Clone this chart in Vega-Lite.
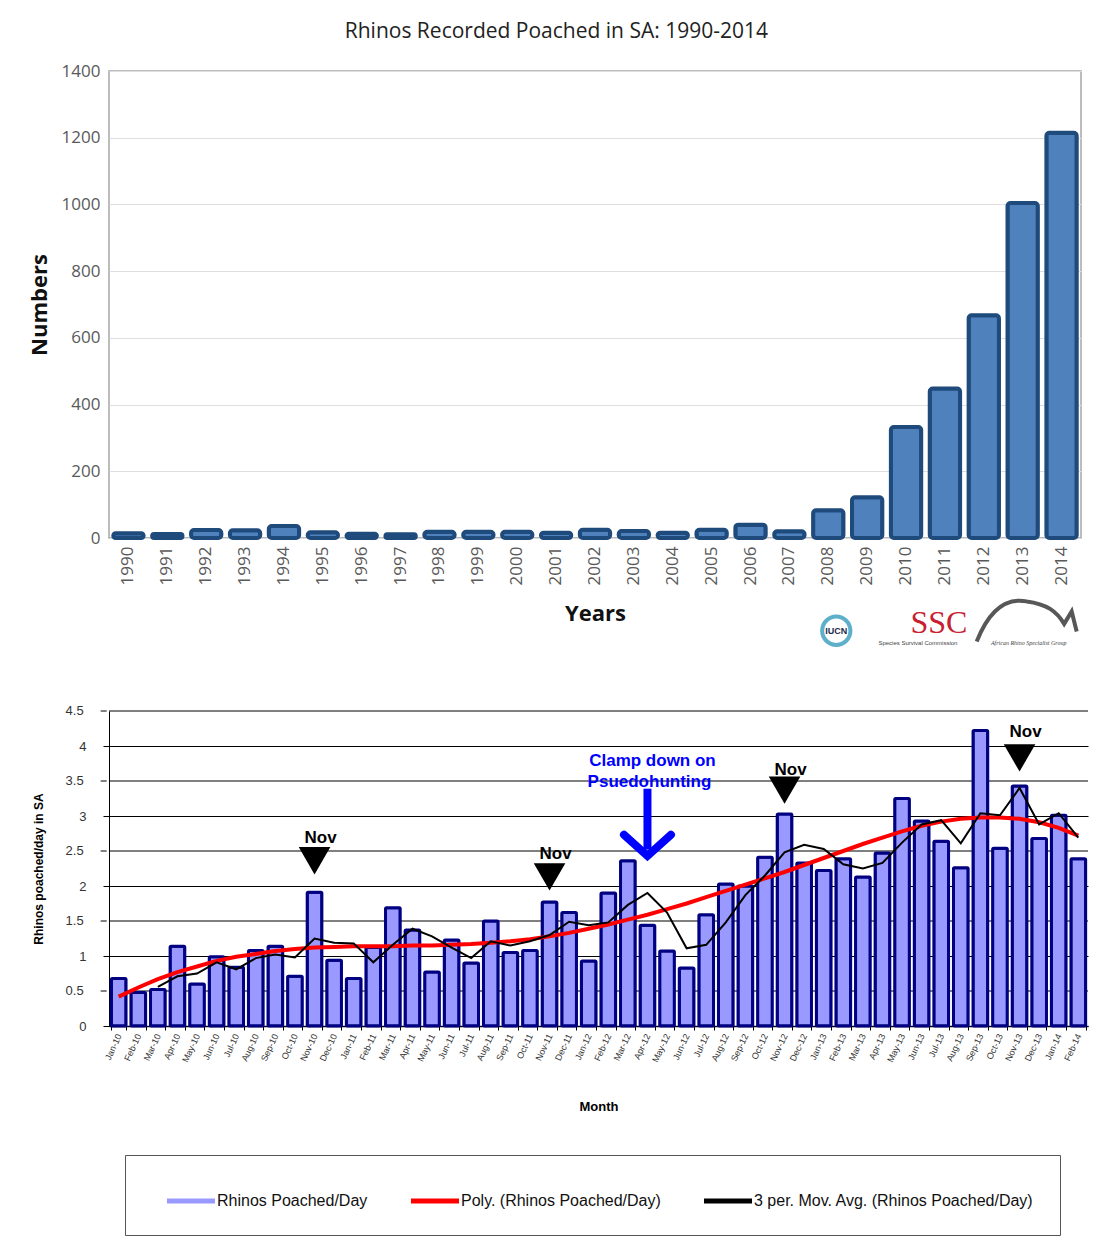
{
  "$schema": "https://vega.github.io/schema/vega-lite/v6.json",
  "background": "white",
  "padding": {"left": 27, "top": 20, "right": 0, "bottom": 0},
  "columns": 1,
  "spacing": 51,
  "datasets": {
    "years": [
      {"year": "1990", "n": 14}, {"year": "1991", "n": 12}, {"year": "1992", "n": 24}, {"year": "1993", "n": 23},
      {"year": "1994", "n": 36}, {"year": "1995", "n": 17}, {"year": "1996", "n": 13}, {"year": "1997", "n": 11},
      {"year": "1998", "n": 19}, {"year": "1999", "n": 19}, {"year": "2000", "n": 19}, {"year": "2001", "n": 16},
      {"year": "2002", "n": 25}, {"year": "2003", "n": 21}, {"year": "2004", "n": 16}, {"year": "2005", "n": 25},
      {"year": "2006", "n": 40}, {"year": "2007", "n": 20}, {"year": "2008", "n": 83}, {"year": "2009", "n": 122},
      {"year": "2010", "n": 333}, {"year": "2011", "n": 448}, {"year": "2012", "n": 668}, {"year": "2013", "n": 1004},
      {"year": "2014", "n": 1215}
    ],
    "logos": [
      {"name": "IUCN"}
    ],
    "halfgrid": [
      {"g": 0.5, "label": "0.5"}, {"g": 1.5, "label": "1.5"}, {"g": 2.5, "label": "2.5"}, {"g": 3.5, "label": "3.5"}, {"g": 4.5, "label": "4.5"}
    ],
    "months": [
      {"month": "Jan-10", "v": 0.68, "poly": 0.42, "mavg": null},
      {"month": "Feb-10", "v": 0.48, "poly": 0.55, "mavg": null},
      {"month": "Mar-10", "v": 0.52, "poly": 0.67, "mavg": 0.56},
      {"month": "Apr-10", "v": 1.14, "poly": 0.77, "mavg": 0.71},
      {"month": "May-10", "v": 0.60, "poly": 0.85, "mavg": 0.75},
      {"month": "Jun-10", "v": 0.99, "poly": 0.93, "mavg": 0.91},
      {"month": "Jul-10", "v": 0.84, "poly": 0.99, "mavg": 0.81},
      {"month": "Aug-10", "v": 1.08, "poly": 1.03, "mavg": 0.97},
      {"month": "Sep-10", "v": 1.14, "poly": 1.07, "mavg": 1.02},
      {"month": "Oct-10", "v": 0.71, "poly": 1.10, "mavg": 0.98},
      {"month": "Nov-10", "v": 1.91, "poly": 1.12, "mavg": 1.25},
      {"month": "Dec-10", "v": 0.94, "poly": 1.13, "mavg": 1.19},
      {"month": "Jan-11", "v": 0.68, "poly": 1.14, "mavg": 1.18},
      {"month": "Feb-11", "v": 1.12, "poly": 1.14, "mavg": 0.91},
      {"month": "Mar-11", "v": 1.69, "poly": 1.14, "mavg": 1.16},
      {"month": "Apr-11", "v": 1.37, "poly": 1.15, "mavg": 1.39},
      {"month": "May-11", "v": 0.77, "poly": 1.15, "mavg": 1.28},
      {"month": "Jun-11", "v": 1.23, "poly": 1.16, "mavg": 1.12},
      {"month": "Jul-11", "v": 0.90, "poly": 1.17, "mavg": 0.97},
      {"month": "Aug-11", "v": 1.50, "poly": 1.19, "mavg": 1.21},
      {"month": "Sep-11", "v": 1.05, "poly": 1.21, "mavg": 1.15},
      {"month": "Oct-11", "v": 1.08, "poly": 1.24, "mavg": 1.21},
      {"month": "Nov-11", "v": 1.77, "poly": 1.28, "mavg": 1.30},
      {"month": "Dec-11", "v": 1.62, "poly": 1.33, "mavg": 1.49},
      {"month": "Jan-12", "v": 0.93, "poly": 1.39, "mavg": 1.44},
      {"month": "Feb-12", "v": 1.90, "poly": 1.45, "mavg": 1.48},
      {"month": "Mar-12", "v": 2.36, "poly": 1.52, "mavg": 1.73},
      {"month": "Apr-12", "v": 1.44, "poly": 1.59, "mavg": 1.90},
      {"month": "May-12", "v": 1.07, "poly": 1.67, "mavg": 1.62},
      {"month": "Jun-12", "v": 0.83, "poly": 1.75, "mavg": 1.11},
      {"month": "Jul-12", "v": 1.59, "poly": 1.84, "mavg": 1.16},
      {"month": "Aug-12", "v": 2.03, "poly": 1.93, "mavg": 1.48},
      {"month": "Sep-12", "v": 2.00, "poly": 2.02, "mavg": 1.87},
      {"month": "Oct-12", "v": 2.41, "poly": 2.11, "mavg": 2.15},
      {"month": "Nov-12", "v": 3.03, "poly": 2.20, "mavg": 2.48},
      {"month": "Dec-12", "v": 2.33, "poly": 2.30, "mavg": 2.59},
      {"month": "Jan-13", "v": 2.22, "poly": 2.40, "mavg": 2.53},
      {"month": "Feb-13", "v": 2.39, "poly": 2.50, "mavg": 2.31},
      {"month": "Mar-13", "v": 2.13, "poly": 2.60, "mavg": 2.25},
      {"month": "Apr-13", "v": 2.47, "poly": 2.69, "mavg": 2.33},
      {"month": "May-13", "v": 3.25, "poly": 2.78, "mavg": 2.62},
      {"month": "Jun-13", "v": 2.93, "poly": 2.86, "mavg": 2.88},
      {"month": "Jul-13", "v": 2.64, "poly": 2.92, "mavg": 2.94},
      {"month": "Aug-13", "v": 2.26, "poly": 2.96, "mavg": 2.61},
      {"month": "Sep-13", "v": 4.22, "poly": 2.98, "mavg": 3.04},
      {"month": "Oct-13", "v": 2.54, "poly": 2.98, "mavg": 3.01},
      {"month": "Nov-13", "v": 3.43, "poly": 2.96, "mavg": 3.40},
      {"month": "Dec-13", "v": 2.68, "poly": 2.91, "mavg": 2.88},
      {"month": "Jan-14", "v": 3.01, "poly": 2.83, "mavg": 3.04},
      {"month": "Feb-14", "v": 2.39, "poly": 2.72, "mavg": 2.69}
    ],
    "nov": [
      {"month": "Nov-10", "tri": 2.36, "txt": 2.61, "label": "Nov"},
      {"month": "Nov-11", "tri": 2.13, "txt": 2.39, "label": "Nov"},
      {"month": "Nov-12", "tri": 3.37, "txt": 3.59, "label": "Nov"},
      {"month": "Nov-13", "tri": 3.83, "txt": 4.13, "label": "Nov"}
    ],
    "clamp": [
      {"month": "Apr-12", "top": 3.39, "bottom": 2.52, "tip": 2.43, "line1": "Clamp down on", "line2": "Psuedohunting", "ya": 3.71, "yb": 3.41}
    ]
  },
  "concat": [
    {
      "width": 972,
      "height": 467,
      "view": {"stroke": "#a6a6a6", "strokeWidth": 1.5},
      "title": {
        "text": "Rhinos Recorded Poached in SA: 1990-2014",
        "font": "Open Sans",
        "fontSize": 21,
        "fontWeight": "normal",
        "color": "#222222",
        "frame": "bounds",
        "anchor": "middle",
        "offset": 20
      },
      "layer": [
        {
          "data": {"name": "years"},
          "mark": {"type": "bar", "color": "#4f81bd", "stroke": "#1f4a7c", "strokeWidth": 4, "cornerRadius": 3},
          "encoding": {
            "x": {
              "field": "year", "type": "nominal", "sort": null,
              "scale": {"paddingInner": 0.22, "paddingOuter": 0.11},
              "axis": {
                "title": "Years", "titleFont": "Open Sans", "titleFontSize": 22, "titleFontWeight": "bold", "titleColor": "#111111", "titlePadding": 19,
                "labelAngle": -90, "labelFont": "Open Sans", "labelFontSize": 17, "labelColor": "#595959", "labelPadding": 8,
                "ticks": false, "domain": false
              }
            },
            "y": {
              "field": "n", "type": "quantitative",
              "scale": {"domain": [0, 1400]},
              "axis": {
                "title": "Numbers", "titleFont": "Open Sans", "titleFontSize": 22, "titleFontWeight": "bold", "titleColor": "#111111", "titlePadding": 10,
                "values": [0, 200, 400, 600, 800, 1000, 1200, 1400], "format": "d",
                "labelFont": "Open Sans", "labelFontSize": 17, "labelColor": "#595959", "labelPadding": 9,
                "ticks": false, "domain": false, "gridColor": "#dedede", "gridWidth": 1
              }
            }
          }
        },
        {
          "data": {"name": "logos"},
          "mark": {"type": "point", "shape": "circle", "size": 800, "filled": false, "stroke": "#1b8fb5", "strokeWidth": 4, "xOffset": 8},
          "encoding": {"x": {"datum": "2008", "type": "nominal"}, "y": {"datum": -278, "type": "quantitative"}}
        },
        {
          "data": {"name": "logos"},
          "mark": {"type": "text", "text": "IUCN", "font": "Liberation Sans", "fontSize": 9, "fontWeight": "bold", "color": "#1b2b4b", "dx": 8},
          "encoding": {"x": {"datum": "2008", "type": "nominal"}, "y": {"datum": -278, "type": "quantitative"}}
        },
        {
          "data": {"name": "logos"},
          "mark": {"type": "text", "text": "SSC", "font": "Liberation Serif", "fontSize": 32, "color": "#c8202f", "dx": -6},
          "encoding": {"x": {"datum": "2011", "type": "nominal"}, "y": {"datum": -255, "type": "quantitative"}}
        },
        {
          "data": {"name": "logos"},
          "mark": {"type": "text", "text": "Species Survival Commission", "font": "Liberation Sans", "fontSize": 6, "color": "#444444", "dx": -27},
          "encoding": {"x": {"datum": "2011", "type": "nominal"}, "y": {"datum": -314, "type": "quantitative"}}
        },
        {
          "data": {"name": "logos"},
          "mark": {"type": "point", "shape": "M-1,0.3C-0.8,-0.2 -0.5,-0.6 0,-0.5C0.4,-0.45 0.6,-0.3 0.75,-0.05L0.9,-0.3L1,0.1", "size": 10000, "filled": false, "stroke": "#111111", "strokeWidth": 4, "xOffset": 4},
          "encoding": {"x": {"datum": "2013", "type": "nominal"}, "y": {"datum": -265, "type": "quantitative"}}
        },
        {
          "data": {"name": "logos"},
          "mark": {"type": "text", "text": "African Rhino Specialist Group", "font": "Liberation Serif", "fontSize": 6, "fontStyle": "italic", "color": "#444444", "dx": 6},
          "encoding": {"x": {"datum": "2013", "type": "nominal"}, "y": {"datum": -314, "type": "quantitative"}}
        }
      ]
    },
    {
      "width": 979,
      "height": 315,
      "view": {"stroke": null},
      "layer": [
        {
          "data": {"name": "halfgrid"},
          "mark": {"type": "rule", "color": "#000000", "strokeWidth": 1},
          "encoding": {
            "y": {"field": "g", "type": "quantitative"}
          }
        },
        {
          "data": {"name": "months"},
          "mark": {"type": "bar", "stroke": "#000080", "strokeWidth": 3, "cornerRadius": 1},
          "encoding": {
            "x": {
              "field": "month", "type": "nominal", "sort": null,
              "scale": {"paddingInner": 0.25, "paddingOuter": 0.12},
              "axis": {
                "title": "Month", "titleFont": "Liberation Sans", "titleFontSize": 13, "titleFontWeight": "bold", "titleColor": "#000000", "titlePadding": 37,
                "labelAngle": -65, "labelFont": "Liberation Sans", "labelFontSize": 9, "labelColor": "#333333", "labelPadding": 4,
                "ticks": true, "tickBand": "extent", "tickColor": "#000000", "tickSize": 4, "domainColor": "#000000", "domainWidth": 1.5
              }
            },
            "y": {
              "field": "v", "type": "quantitative",
              "scale": {"domain": [0, 4.5], "nice": false},
              "axis": {
                "title": "Rhinos poached/day in SA", "titleFont": "Liberation Sans", "titleFontSize": 12, "titleFontWeight": "bold", "titleColor": "#000000", "titlePadding": 33,
                "values": [0, 0.5, 1, 1.5, 2, 2.5, 3, 3.5, 4, 4.5], "format": "~g", "labelOverlap": false,
                "labelFont": "Liberation Sans", "labelFontSize": 13, "labelColor": "#333333", "labelPadding": 17,
                "tickColor": "#000000", "tickSize": 6, "domainColor": "#000000",
                "gridColor": "#000000", "gridWidth": 1, "gridOpacity": 1
              }
            },
            "color": {
              "datum": "Rhinos Poached/Day",
              "scale": {"domain": ["Rhinos Poached/Day", "Poly. (Rhinos Poached/Day)", "3 per. Mov. Avg. (Rhinos Poached/Day)"], "range": ["#9999ff", "#ff0000", "#000000"]},
              "legend": {
                "orient": "none",
                "legendX": 16,
                "legendY": 1084,
                "direction": "horizontal",
                "columns": 3,
                "title": null,
                "strokeColor": "#555555",
                "padding": 26,
                "columnPadding": 27,
                "symbolSize": 1600,
                "symbolType": "M-0.2,-0.12H2.2V0.12H-0.2Z",
                "symbolStrokeWidth": 0,
                "labelOffset": 26,
                "labelFont": "Liberation Sans",
                "labelFontSize": 16,
                "labelColor": "#111111",
                "labelLimit": 400
              }
            }
          }
        },
        {
          "data": {"name": "halfgrid"},
          "mark": {"type": "text", "font": "Liberation Sans", "fontSize": 13, "color": "#333333", "align": "right", "baseline": "middle", "dx": -35},
          "encoding": {
            "x": {"datum": "Jan-10", "type": "nominal"},
            "y": {"field": "g", "type": "quantitative"},
            "text": {"field": "label"}
          }
        },
        {
          "data": {"name": "halfgrid"},
          "mark": {"type": "rule", "color": "#000000", "strokeWidth": 1, "xOffset": -12, "x2Offset": -18},
          "encoding": {
            "x": {"datum": "Jan-10", "type": "nominal"},
            "x2": {"datum": "Jan-10"},
            "y": {"field": "g", "type": "quantitative"}
          }
        },
        {
          "data": {"name": "months"},
          "mark": {"type": "line", "strokeWidth": 4},
          "encoding": {
            "x": {"field": "month", "type": "nominal", "sort": null},
            "y": {"field": "poly", "type": "quantitative"},
            "color": {"datum": "Poly. (Rhinos Poached/Day)"}
          }
        },
        {
          "data": {"name": "months"},
          "mark": {"type": "line", "strokeWidth": 2},
          "encoding": {
            "x": {"field": "month", "type": "nominal", "sort": null},
            "y": {"field": "mavg", "type": "quantitative"},
            "color": {"datum": "3 per. Mov. Avg. (Rhinos Poached/Day)"}
          }
        },
        {
          "data": {"name": "nov"},
          "mark": {"type": "point", "shape": "triangle-down", "size": 1000, "filled": true, "color": "#000000", "opacity": 1},
          "encoding": {
            "x": {"field": "month", "type": "nominal", "sort": null},
            "y": {"field": "tri", "type": "quantitative"}
          }
        },
        {
          "data": {"name": "nov"},
          "mark": {"type": "text", "font": "Liberation Sans", "fontSize": 17, "fontWeight": "bold", "color": "#000000", "baseline": "alphabetic", "dx": 6},
          "encoding": {
            "x": {"field": "month", "type": "nominal", "sort": null},
            "y": {"field": "txt", "type": "quantitative"},
            "text": {"field": "label"}
          }
        },
        {
          "data": {"name": "clamp"},
          "mark": {"type": "rule", "color": "#0000ff", "strokeWidth": 8},
          "encoding": {
            "x": {"field": "month", "type": "nominal", "sort": null},
            "y": {"field": "top", "type": "quantitative"},
            "y2": {"field": "bottom"}
          }
        },
        {
          "data": {"name": "clamp"},
          "mark": {"type": "point", "shape": "M-1,-0.9L0,0L1,-0.9", "size": 2209, "filled": false, "stroke": "#0000ff", "strokeWidth": 8, "strokeCap": "round", "opacity": 1},
          "encoding": {
            "x": {"field": "month", "type": "nominal", "sort": null},
            "y": {"field": "tip", "type": "quantitative"}
          }
        },
        {
          "data": {"name": "clamp"},
          "mark": {"type": "text", "font": "Liberation Sans", "fontSize": 17, "fontWeight": "bold", "color": "#0000ff", "baseline": "alphabetic", "dx": 5},
          "encoding": {
            "x": {"field": "month", "type": "nominal", "sort": null},
            "y": {"field": "ya", "type": "quantitative"},
            "text": {"field": "line1"}
          }
        },
        {
          "data": {"name": "clamp"},
          "mark": {"type": "text", "font": "Liberation Sans", "fontSize": 17, "fontWeight": "bold", "color": "#0000ff", "baseline": "alphabetic", "dx": 2},
          "encoding": {
            "x": {"field": "month", "type": "nominal", "sort": null},
            "y": {"field": "yb", "type": "quantitative"},
            "text": {"field": "line2"}
          }
        }
      ]
    }
  ]
}
